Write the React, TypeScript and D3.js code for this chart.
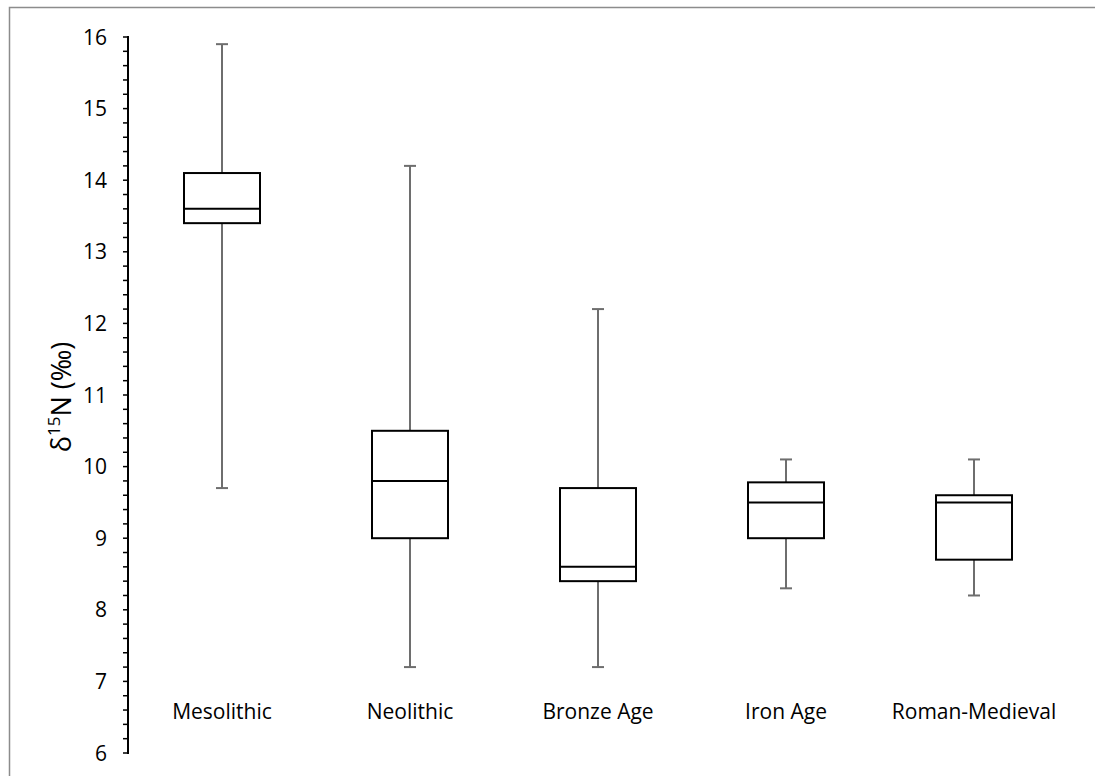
import React from "react";
import * as d3 from "d3";

const categories = ["Mesolithic", "Neolithic", "Bronze Age", "Iron Age", "Roman-Medieval"];
const minValues = [9.7, 7.2, 7.2, 8.3, 8.2];
const q1Values = [13.4, 9.0, 8.4, 9.0, 8.7];
const medianValues = [13.6, 9.8, 8.6, 9.5, 9.5];
const q3Values = [14.1, 10.5, 9.7, 9.78, 9.6];
const maxValues = [15.9, 14.2, 12.2, 10.1, 10.1];
const yTicks = [6, 7, 8, 9, 10, 11, 12, 13, 14, 15, 16];

const W = 1095;
const H = 776;
const FONT = "'Open Sans', Lato, sans-serif";

export default function App() {
  const axisX = 128;
  const x = d3.scaleBand<string>().domain(categories).range([128, 1068]).paddingInner(0).paddingOuter(0);
  const y = d3.scaleLinear().domain([6, 16]).range([753, 37]);
  const boxW = 76;
  const capW = 12;
  const minorTicks = d3.range(60, 161, 2).map((v) => v / 10);

  return (
    <svg width={W} height={H} style={{ position: "absolute", left: 0, top: 0 }}>
      <rect x={0} y={0} width={W} height={H} fill="#fff" />
      <rect x={9.5} y={7.5} width={1100} height={800} fill="none" stroke="#8c8c8c" strokeWidth={1.5} />
      {/* y axis */}
      <line x1={axisX} x2={axisX} y1={y(16) - 1} y2={y(6) + 1} stroke="#000" strokeWidth={2} />
      {minorTicks.map((v) => (
        <line key={"m" + v} x1={axisX - 5} x2={axisX} y1={y(v)} y2={y(v)} stroke="#000" strokeWidth={1.5} />
      ))}
      {yTicks.map((v) => (
        <text key={"t" + v} x={107} y={y(v)} dy="0.36em" textAnchor="end" fontFamily={FONT} fontSize={21} fill="#000">
          {v}
        </text>
      ))}
      <text
        transform={`translate(71, ${397}) rotate(-90)`}
        textAnchor="middle"
        fontFamily={FONT}
        fontSize={27}
        fill="#000"
      >
        δ<tspan fontSize={17} dy={-11}>15</tspan>
        <tspan dy={11}>N (‰)</tspan>
      </text>
      {categories.map((c, i) => {
        const cx = (x(c) as number) + x.bandwidth() / 2;
        return (
          <g key={c}>
            <line x1={cx} x2={cx} y1={y(maxValues[i])} y2={y(q3Values[i])} stroke="#6e6e6e" strokeWidth={2} />
            <line x1={cx} x2={cx} y1={y(q1Values[i])} y2={y(minValues[i])} stroke="#6e6e6e" strokeWidth={2} />
            <line x1={cx - capW / 2} x2={cx + capW / 2} y1={y(maxValues[i])} y2={y(maxValues[i])} stroke="#6e6e6e" strokeWidth={2} />
            <line x1={cx - capW / 2} x2={cx + capW / 2} y1={y(minValues[i])} y2={y(minValues[i])} stroke="#6e6e6e" strokeWidth={2} />
            <rect
              x={cx - boxW / 2}
              y={y(q3Values[i])}
              width={boxW}
              height={y(q1Values[i]) - y(q3Values[i])}
              fill="#fff"
              stroke="#000"
              strokeWidth={2}
            />
            <line x1={cx - boxW / 2} x2={cx + boxW / 2} y1={y(medianValues[i])} y2={y(medianValues[i])} stroke="#000" strokeWidth={2} />
            <text x={cx} y={719} textAnchor="middle" fontFamily={FONT} fontSize={21} fill="#000">
              {c}
            </text>
          </g>
        );
      })}
    </svg>
  );
}
